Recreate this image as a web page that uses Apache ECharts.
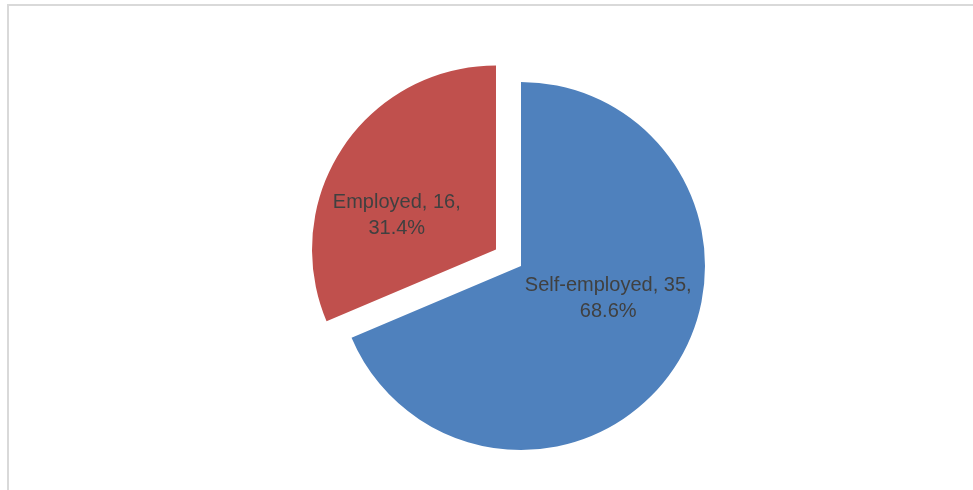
<!DOCTYPE html>
<html>
<head>
<meta charset="utf-8">
<script src="https://cdn.jsdelivr.net/npm/echarts@6/dist/echarts.min.js"></script>
<style>
  html, body { margin: 0; padding: 0; background: #ffffff; }
  #chart { width: 973px; height: 490px; }
</style>
</head>
<body>
<div id="chart"></div>
<script>
// Employment status of respondents
const categories = ['Self-employed', 'Employed'];
const counts = [35, 16];
const sliceColors = ['#4F81BD', '#C0504D'];
const explodedSlices = [false, true];
const labelNudges = [[8, -20], [-20, 19]];

const chart = echarts.init(document.getElementById('chart'), null, { renderer: 'canvas' });

const pieData = categories.map((name, i) => ({
  name: name,
  value: counts[i],
  selected: explodedSlices[i],
  itemStyle: { color: sliceColors[i] },
  label: { offset: labelNudges[i] },
  select: {
    itemStyle: { color: sliceColors[i] },
    label: { offset: labelNudges[i] }
  }
}));

chart.setOption({
  animation: false,
  backgroundColor: '#ffffff',
  graphic: [{
    type: 'rect',
    shape: { x: 8, y: 5, width: 1000, height: 520 },
    style: { fill: 'none', stroke: '#D9D9D9', lineWidth: 2 },
    silent: true,
    z: -10
  }],
  series: [{
    type: 'pie',
    center: [521, 266],
    radius: 184,
    startAngle: 90,
    clockwise: true,
    selectedMode: 'multiple',
    selectedOffset: 30,
    percentPrecision: 1,
    avoidLabelOverlap: false,
    emphasis: { disabled: true },
    label: {
      show: true,
      position: 'inside',
      formatter: '{b}, {c},\n{d}%',
      fontFamily: 'Liberation Sans',
      fontSize: 20,
      lineHeight: 26,
      color: '#404040',
      align: 'center'
    },
    labelLine: { show: false },
    data: pieData
  }]
});
</script>
</body>
</html>
